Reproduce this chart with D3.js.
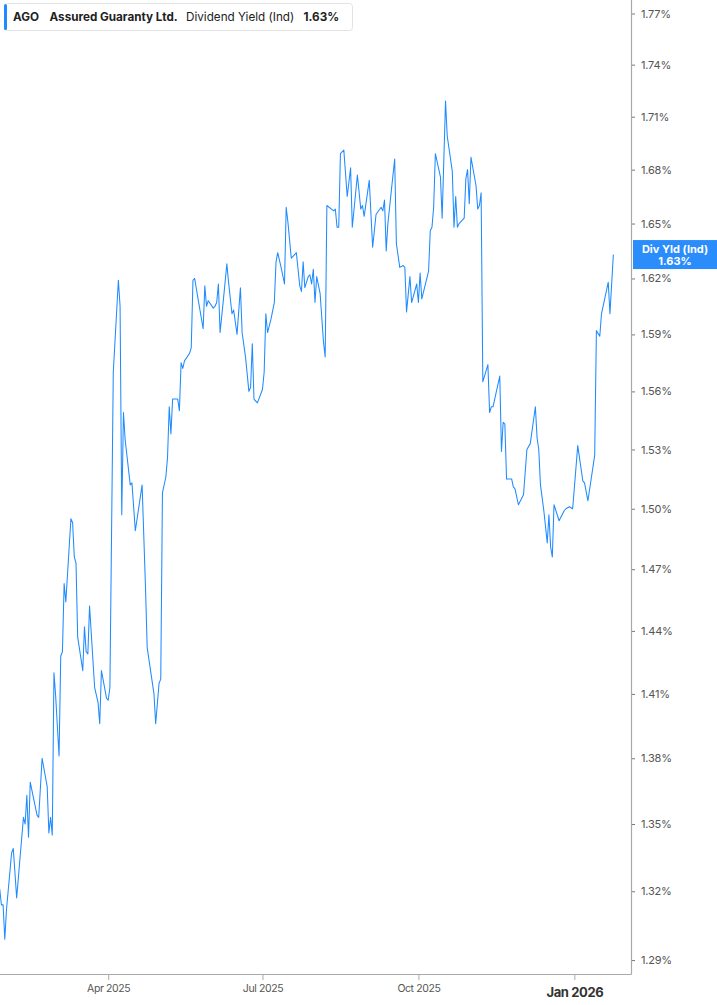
<!DOCTYPE html>
<html><head><meta charset="utf-8">
<script src="https://cdn.jsdelivr.net/npm/d3@7"></script>
<style>
body{margin:0;background:#fff;}
svg{display:block;font-family:Inter,"Noto Sans",sans-serif;}
</style>
</head><body><svg id="c" width="717" height="1005"></svg>
<script>
const dates = [
"2025-01-27","2025-01-28","2025-01-29","2025-01-30","2025-01-31","2025-02-03","2025-02-04","2025-02-06","2025-02-08","2025-02-10",
"2025-02-11","2025-02-12","2025-02-13","2025-02-14","2025-02-18","2025-02-19","2025-02-21","2025-02-24","2025-02-25","2025-02-26",
"2025-02-27","2025-02-28","2025-03-01","2025-03-03","2025-03-04","2025-03-05","2025-03-06","2025-03-07","2025-03-10","2025-03-11",
"2025-03-12","2025-03-13","2025-03-14","2025-03-17","2025-03-18","2025-03-19","2025-03-20","2025-03-21","2025-03-24","2025-03-26",
"2025-03-27","2025-03-28","2025-03-31","2025-04-01","2025-04-02","2025-04-04","2025-04-07","2025-04-08","2025-04-09","2025-04-10",
"2025-04-11","2025-04-14","2025-04-15","2025-04-17","2025-04-21","2025-04-23","2025-04-24","2025-04-28","2025-04-29","2025-05-01",
"2025-05-02","2025-05-03","2025-05-05","2025-05-06","2025-05-07","2025-05-08","2025-05-09","2025-05-12","2025-05-13","2025-05-14",
"2025-05-15","2025-05-16","2025-05-19","2025-05-20","2025-05-21","2025-05-22","2025-05-24","2025-05-27","2025-05-28","2025-05-29",
"2025-05-30","2025-06-02","2025-06-03","2025-06-04","2025-06-05","2025-06-06","2025-06-08","2025-06-10","2025-06-11","2025-06-13",
"2025-06-14","2025-06-16","2025-06-18","2025-06-19","2025-06-21","2025-06-23","2025-06-24","2025-06-25","2025-06-26","2025-06-28",
"2025-07-01","2025-07-02","2025-07-03","2025-07-04","2025-07-06","2025-07-08","2025-07-09","2025-07-10","2025-07-12","2025-07-14",
"2025-07-15","2025-07-16","2025-07-18","2025-07-19","2025-07-21","2025-07-23","2025-07-24","2025-07-25","2025-07-26","2025-07-28",
"2025-07-29","2025-07-30","2025-07-31","2025-08-01","2025-08-02","2025-08-04","2025-08-06","2025-08-07","2025-08-08","2025-08-12",
"2025-08-13","2025-08-14","2025-08-15","2025-08-16","2025-08-18","2025-08-20","2025-08-22","2025-08-23","2025-08-26","2025-08-28",
"2025-08-29","2025-08-30","2025-09-02","2025-09-04","2025-09-06","2025-09-09","2025-09-10","2025-09-11","2025-09-12","2025-09-13",
"2025-09-15","2025-09-17","2025-09-18","2025-09-20","2025-09-22","2025-09-23","2025-09-24","2025-09-26","2025-09-27","2025-09-30",
"2025-10-01","2025-10-02","2025-10-03","2025-10-07","2025-10-08","2025-10-09","2025-10-10","2025-10-11","2025-10-14","2025-10-15",
"2025-10-17","2025-10-18","2025-10-21","2025-10-22","2025-10-23","2025-10-24","2025-10-25","2025-10-28","2025-10-29","2025-10-30",
"2025-10-31","2025-11-01","2025-11-04","2025-11-05","2025-11-06","2025-11-07","2025-11-08","2025-11-11","2025-11-12","2025-11-13",
"2025-11-14","2025-11-18","2025-11-19","2025-11-20","2025-11-21","2025-11-22","2025-11-25","2025-11-26","2025-11-27","2025-11-29",
"2025-12-02","2025-12-04","2025-12-06","2025-12-09","2025-12-10","2025-12-11","2025-12-12","2025-12-14","2025-12-16","2025-12-17",
"2025-12-18","2025-12-19","2025-12-20","2025-12-23","2025-12-26","2025-12-27","2025-12-29","2025-12-31","2026-01-03","2026-01-06",
"2026-01-07","2026-01-09","2026-01-13","2026-01-14","2026-01-16","2026-01-17","2026-01-21","2026-01-22","2026-01-24"
];
const values = [
1.321,1.314,1.314,1.299,1.312,1.337,1.339,1.317,1.335,1.353,
1.350,1.363,1.344,1.369,1.354,1.353,1.380,1.367,1.346,1.353,
1.345,1.420,1.409,1.381,1.428,1.430,1.463,1.454,1.495,1.493,
1.476,1.473,1.437,1.421,1.442,1.430,1.429,1.452,1.413,1.406,
1.396,1.421,1.408,1.407,1.413,1.570,1.619,1.605,1.497,1.549,
1.535,1.512,1.513,1.489,1.512,1.461,1.432,1.410,1.396,1.415,
1.417,1.508,1.516,1.526,1.552,1.538,1.556,1.556,1.550,1.575,
1.572,1.576,1.580,1.583,1.619,1.620,1.609,1.593,1.616,1.605,
1.608,1.604,1.605,1.607,1.617,1.591,1.609,1.628,1.618,1.601,
1.603,1.590,1.615,1.591,1.578,1.560,1.562,1.585,1.556,1.554,
1.561,1.570,1.601,1.591,1.598,1.607,1.629,1.634,1.626,1.617,
1.659,1.651,1.631,1.632,1.634,1.616,1.613,1.629,1.615,1.621,
1.622,1.617,1.625,1.607,1.621,1.612,1.586,1.578,1.660,1.657,
1.658,1.648,1.648,1.689,1.691,1.665,1.681,1.648,1.677,1.658,
1.660,1.654,1.674,1.637,1.655,1.659,1.657,1.663,1.635,1.650,
1.668,1.686,1.639,1.626,1.627,1.626,1.602,1.621,1.607,1.617,
1.607,1.623,1.609,1.624,1.646,1.648,1.659,1.689,1.676,1.653,
1.719,1.699,1.679,1.648,1.665,1.648,1.650,1.653,1.675,1.680,
1.661,1.687,1.671,1.658,1.660,1.667,1.565,1.574,1.549,1.552,
1.552,1.568,1.529,1.544,1.543,1.515,1.515,1.511,1.510,1.502,
1.507,1.530,1.533,1.552,1.536,1.530,1.512,1.499,1.483,1.497,
1.481,1.476,1.502,1.494,1.499,1.500,1.501,1.500,1.532,1.514,
1.513,1.504,1.527,1.592,1.589,1.601,1.618,1.601,1.633
];
const yTickValues = [1.29,1.32,1.35,1.38,1.41,1.44,1.47,1.50,1.53,1.56,1.59,1.62,1.65,1.68,1.71,1.74,1.77];
const xTickDates = ["2025-04-01","2025-07-01","2025-10-01","2026-01-01"];
const xTickLabels = ["Apr 2025","Jul 2025","Oct 2025","Jan 2026"];
const ticker = "AGO";
const company = "Assured Guaranty Ltd.";
const metric = "Dividend Yield (Ind)";
const badgeTitle = "Div Yld (Ind)";

const W = 717, H = 1005, plotR = 631, plotB = 974;
const lineColor = "#1f8bff", badgeColor = "#2a8dfb";
const parse = d3.utcParse("%Y-%m-%d");
const data = dates.map((d, i) => ({date: parse(d), v: values[i]}));
const last = data[data.length - 1];

const svg = d3.select("#c");
svg.append("rect").attr("width", W).attr("height", H).attr("fill", "#fff");

const x = d3.scaleUtc()
  .domain([new Date(Date.UTC(2025, 0, 27, 4)), new Date(Date.UTC(2026, 1, 3, 10))])
  .range([0, plotR]);
const y = d3.scaleLog().domain([1.284, 1.778]).range([plotB, 0]);

svg.append("clipPath").attr("id", "clip")
  .append("rect").attr("x", 0).attr("y", 0).attr("width", plotR).attr("height", plotB);

// line
svg.append("path")
  .datum(data)
  .attr("clip-path", "url(#clip)")
  .attr("fill", "none")
  .attr("stroke", lineColor)
  .attr("stroke-width", 1.05)
  .attr("stroke-linejoin", "round")
  .attr("d", d3.line().x(d => x(d.date)).y(d => y(d.v)));

// right axis
const yAxis = svg.append("g")
  .attr("transform", `translate(${plotR},0)`)
  .call(d3.axisRight(y).tickValues(yTickValues).tickSize(4).tickSizeOuter(0).tickPadding(6)
    .tickFormat(d => d.toFixed(2) + "%"));
yAxis.select(".domain").remove();
yAxis.selectAll(".tick line").attr("stroke", "#777").attr("x1", 1).attr("x2", 4);
yAxis.selectAll(".tick text").attr("fill", "#555").attr("font-size", 11).attr("letter-spacing", "-0.2px")
  .attr("font-family", "Inter, 'Noto Sans', sans-serif");

// bottom axis
const xAxis = svg.append("g")
  .attr("transform", `translate(0,${plotB})`)
  .call(d3.axisBottom(x).tickValues(xTickDates.map(parse)).tickSize(6).tickSizeOuter(0).tickPadding(5)
    .tickFormat((d, i) => xTickLabels[i]));
xAxis.select(".domain").remove();
xAxis.selectAll(".tick line").attr("stroke", "#aaa");
xAxis.selectAll(".tick text").attr("fill", "#555").attr("font-size", 10.5).attr("letter-spacing", "-0.4px")
  .attr("font-family", "Inter, 'Noto Sans', sans-serif");
xAxis.selectAll(".tick").filter((d, i) => i === xTickLabels.length - 1)
  .select("text").attr("font-weight", "bold").attr("font-size", 13).attr("letter-spacing", "-0.4px")
  .attr("fill", "#333").attr("dy", "0.95em");

// axis lines
svg.append("line").attr("x1", plotR + 0.5).attr("x2", plotR + 0.5).attr("y1", 0).attr("y2", plotB + 0.5)
  .attr("stroke", "#aaa").attr("stroke-width", 1.2);
svg.append("line").attr("x1", 0).attr("x2", plotR + 0.5).attr("y1", plotB + 0.5).attr("y2", plotB + 0.5)
  .attr("stroke", "#aaa").attr("stroke-width", 1.2);

// last value badge
const by = y(last.v);
const badge = svg.append("g");
badge.append("rect").attr("x", plotR + 2).attr("y", by - 14.5).attr("width", W - plotR - 2).attr("height", 29)
  .attr("fill", badgeColor);
badge.append("text").attr("x", (plotR + 2 + W) / 2).attr("y", by - 2).attr("text-anchor", "middle")
  .attr("fill", "#fff").attr("font-size", 11).attr("font-weight", "bold").text(badgeTitle);
badge.append("text").attr("x", (plotR + 2 + W) / 2).attr("y", by + 10.5).attr("text-anchor", "middle")
  .attr("fill", "#fff").attr("font-size", 11).attr("font-weight", "bold").text(last.v.toFixed(2) + "%");

// legend
const lg = svg.append("g");
lg.append("rect").attr("x", 4.5).attr("y", 3.5).attr("width", 348).attr("height", 27).attr("rx", 3)
  .attr("fill", "#fff").attr("stroke", "#e3e3e3");
lg.append("rect").attr("x", 4).attr("y", 4).attr("width", 3).attr("height", 26).attr("rx", 1.5).attr("fill", lineColor);
const ly = 21.2, lfs = 11.7;
lg.append("text").attr("x", 13).attr("y", ly).attr("font-size", lfs).attr("font-weight", "bold").attr("fill", "#222").text(ticker);
lg.append("text").attr("x", 49.5).attr("y", ly).attr("font-size", lfs).attr("font-weight", "bold").attr("fill", "#222").text(company);
lg.append("text").attr("x", 186).attr("y", ly).attr("font-size", lfs).attr("fill", "#222").text(metric);
lg.append("text").attr("x", 303.5).attr("y", ly).attr("font-size", lfs).attr("font-weight", "bold").attr("fill", "#222").text(last.v.toFixed(2) + "%");
</script>
</body></html>
